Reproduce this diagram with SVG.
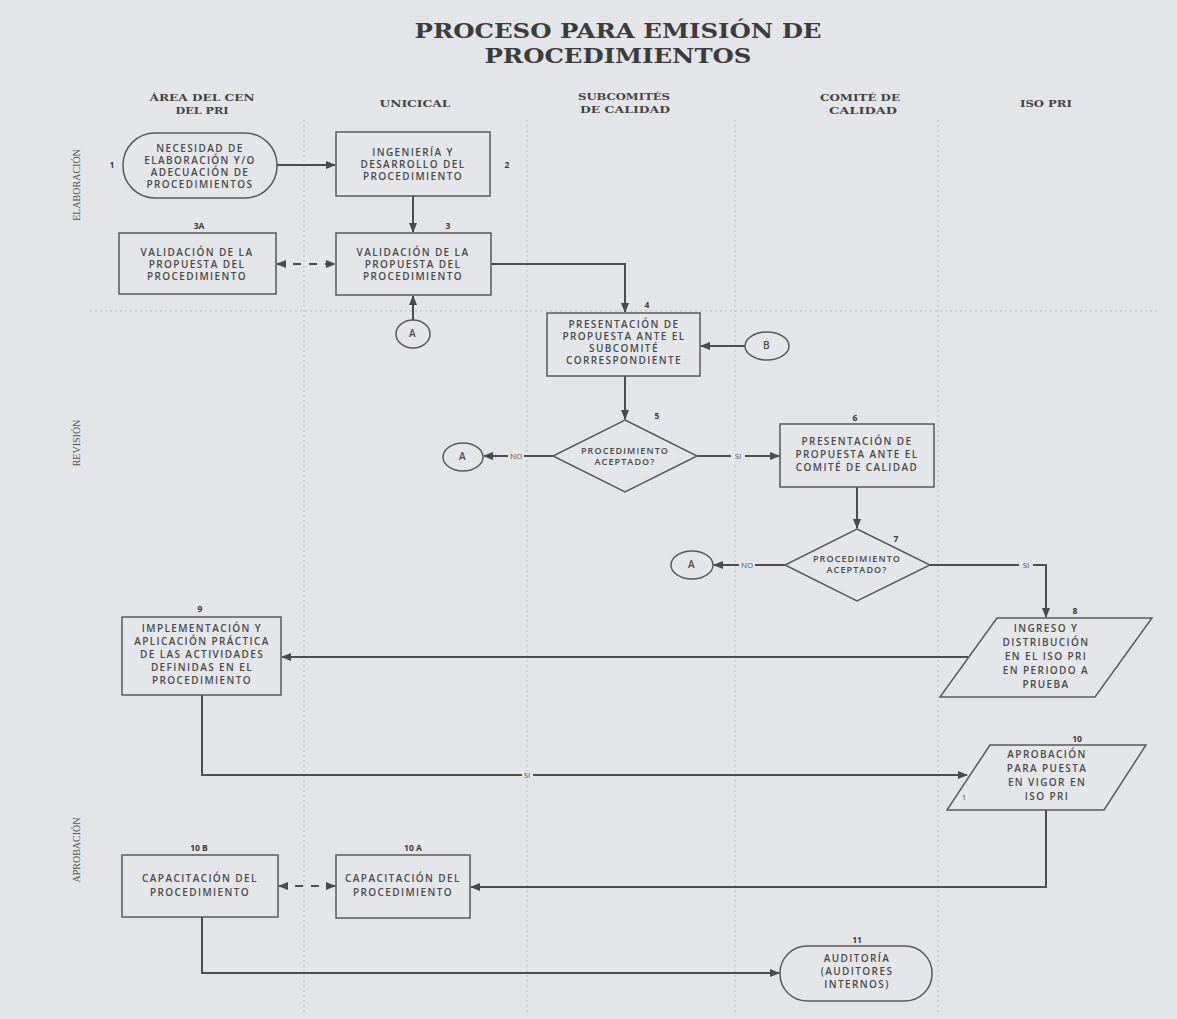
<svg xmlns="http://www.w3.org/2000/svg" width="1177" height="1019" viewBox="0 0 1177 1019">
<defs>
<marker id="ah" markerWidth="10" markerHeight="8" refX="9" refY="4" orient="auto" markerUnits="userSpaceOnUse"><path d="M0,0 L10,4 L0,8 Z" fill="#4a4a4a"/></marker>
<marker id="ahs" markerWidth="10" markerHeight="8" refX="1" refY="4" orient="auto" markerUnits="userSpaceOnUse"><path d="M10,0 L0,4 L10,8 Z" fill="#4a4a4a"/></marker>
<style>
.bg{fill:#e3e5e8}
.sep{stroke:#b9bcc0;stroke-width:1;stroke-dasharray:2,3;fill:none}
.shape{fill:#e4e6e9;stroke:#5a5a5a;stroke-width:1.5}
.conn{fill:none;stroke:#4d4d4d;stroke-width:2}
.dash{stroke-dasharray:8,8}
.t{font-family:"Open Sans","Liberation Sans",sans-serif;font-size:10px;font-weight:600;letter-spacing:1.4px;fill:#4a4a4a;text-anchor:middle}
.s{font-size:9px;letter-spacing:1.1px}
.n{font-family:"Open Sans","Liberation Sans",sans-serif;font-size:8.5px;font-weight:bold;fill:#3a3a3a;text-anchor:middle}
.lbl{font-family:"Open Sans","Liberation Sans",sans-serif;font-size:8px;fill:#555;text-anchor:middle}
.hd{font-family:"DejaVu Serif",serif;font-size:10px;font-weight:bold;fill:#444;text-anchor:middle}
.title{font-family:"DejaVu Serif",serif;font-size:21px;font-weight:bold;fill:#3c3c3c;text-anchor:middle}
.row{font-family:"Liberation Serif",serif;font-size:10px;fill:#555;text-anchor:middle}
</style>
</defs>
<rect class="bg" x="0" y="0" width="1177" height="1019"/>
<g id="title">
<text class="title" x="618" y="38" textLength="407" lengthAdjust="spacingAndGlyphs">PROCESO PARA EMISIÓN DE</text>
<text class="title" x="618" y="63" textLength="267" lengthAdjust="spacingAndGlyphs">PROCEDIMIENTOS</text>
</g>
<g id="lanes">
<text class="hd" x="202" y="101" textLength="105" lengthAdjust="spacingAndGlyphs">ÁREA DEL CEN</text>
<text class="hd" x="202" y="114" textLength="53" lengthAdjust="spacingAndGlyphs">DEL PRI</text>
<text class="hd" x="415" y="107" textLength="71" lengthAdjust="spacingAndGlyphs">UNICICAL</text>
<text class="hd" x="624" y="100" textLength="92" lengthAdjust="spacingAndGlyphs">SUBCOMITÉS</text>
<text class="hd" x="625" y="113" textLength="90" lengthAdjust="spacingAndGlyphs">DE CALIDAD</text>
<text class="hd" x="860" y="101" textLength="80" lengthAdjust="spacingAndGlyphs">COMITÉ DE</text>
<text class="hd" x="863" y="114" textLength="68" lengthAdjust="spacingAndGlyphs">CALIDAD</text>
<text class="hd" x="1046" y="107" textLength="52" lengthAdjust="spacingAndGlyphs">ISO PRI</text>
<line class="sep" x1="304" y1="120" x2="304" y2="1012"/>
<line class="sep" x1="527" y1="120" x2="527" y2="1012"/>
<line class="sep" x1="735" y1="120" x2="735" y2="1012"/>
<line class="sep" x1="938" y1="120" x2="938" y2="1012"/>
<line class="sep" x1="90" y1="311" x2="1160" y2="311"/>
<text class="row" transform="translate(80,185) rotate(-90)">ELABORACIÓN</text>
<text class="row" transform="translate(80,443) rotate(-90)">REVISIÓN</text>
<text class="row" transform="translate(80,850) rotate(-90)">APROBACIÓN</text>
</g>
<g id="connectors">
<line class="conn" x1="277" y1="165" x2="335" y2="165" marker-end="url(#ah)"/>
<line class="conn" x1="413" y1="196" x2="413" y2="232" marker-end="url(#ah)"/>
<line class="conn dash" x1="277" y1="264" x2="335" y2="264" marker-start="url(#ahs)" marker-end="url(#ah)"/>
<line class="conn" x1="413" y1="320" x2="413" y2="296" marker-end="url(#ah)"/>
<polyline class="conn" points="491,264 625,264 625,312" marker-end="url(#ah)"/>
<line class="conn" x1="745" y1="346" x2="701" y2="346" marker-end="url(#ah)"/>
<line class="conn" x1="625" y1="376" x2="625" y2="419" marker-end="url(#ah)"/>
<line class="conn" x1="553" y1="456" x2="484" y2="456" marker-end="url(#ah)"/>
<line class="conn" x1="697" y1="456" x2="779" y2="456" marker-end="url(#ah)"/>
<line class="conn" x1="857" y1="487" x2="857" y2="528" marker-end="url(#ah)"/>
<line class="conn" x1="785" y1="565" x2="714" y2="565" marker-end="url(#ah)"/>
<polyline class="conn" points="930,565 1046,565 1046,617" marker-end="url(#ah)"/>
<line class="conn" x1="968" y1="657" x2="282" y2="657" marker-end="url(#ah)"/>
<polyline class="conn" points="202,695 202,775 967,775" marker-end="url(#ah)"/>
<polyline class="conn" points="1046,810 1046,887 471,887" marker-end="url(#ah)"/>
<line class="conn dash" x1="279" y1="886" x2="335" y2="886" marker-start="url(#ahs)" marker-end="url(#ah)"/>
<polyline class="conn" points="202,917 202,973 779,973" marker-end="url(#ah)"/>
<rect x="508" y="451" width="16" height="10" fill="#e3e5e8"/>
<text class="lbl" x="516" y="459">NO</text>
<rect x="731" y="451" width="14" height="10" fill="#e3e5e8"/>
<text class="lbl" x="738" y="459">SI</text>
<rect x="739" y="560" width="16" height="10" fill="#e3e5e8"/>
<text class="lbl" x="747" y="568">NO</text>
<rect x="1019" y="560" width="14" height="10" fill="#e3e5e8"/>
<text class="lbl" x="1026" y="568">SI</text>
<rect x="522" y="771" width="11" height="9" fill="#e3e5e8"/>
<text class="lbl" x="527" y="778" font-size="6">SI</text>
</g>
<g id="n1">
<rect class="shape" x="123" y="133" width="154" height="65" rx="32" ry="32"/>
<text class="n" x="112" y="168">1</text>
<text class="t" x="200" y="152">NECESIDAD DE</text>
<text class="t" x="200" y="164">ELABORACIÓN Y/O</text>
<text class="t" x="200" y="176">ADECUACIÓN DE</text>
<text class="t" x="200" y="188">PROCEDIMIENTOS</text>
</g>
<g id="n2">
<rect class="shape" x="336" y="132" width="154" height="64"/>
<text class="n" x="507" y="168">2</text>
<text class="t" x="413" y="156">INGENIERÍA Y</text>
<text class="t" x="413" y="168">DESARROLLO DEL</text>
<text class="t" x="413" y="180">PROCEDIMIENTO</text>
</g>
<g id="n3A">
<rect class="shape" x="119" y="233" width="157" height="61"/>
<text class="n" x="199" y="229">3A</text>
<text class="t" x="197" y="256">VALIDACIÓN DE LA</text>
<text class="t" x="197" y="268">PROPUESTA DEL</text>
<text class="t" x="197" y="280">PROCEDIMIENTO</text>
</g>
<g id="n3">
<rect class="shape" x="336" y="233" width="155" height="62"/>
<text class="n" x="448" y="229">3</text>
<text class="t" x="413" y="256">VALIDACIÓN DE LA</text>
<text class="t" x="413" y="268">PROPUESTA DEL</text>
<text class="t" x="413" y="280">PROCEDIMIENTO</text>
</g>
<g id="cA1">
<ellipse class="shape" cx="413" cy="334" rx="17" ry="14"/>
<text class="t" x="413" y="337" letter-spacing="0">A</text>
</g>
<g id="n4">
<rect class="shape" x="547" y="313" width="153" height="63"/>
<text class="n" x="647" y="308">4</text>
<text class="t" x="624" y="328">PRESENTACIÓN DE</text>
<text class="t" x="624" y="340">PROPUESTA ANTE EL</text>
<text class="t" x="624" y="352">SUBCOMITÉ</text>
<text class="t" x="624" y="364">CORRESPONDIENTE</text>
</g>
<g id="cB">
<ellipse class="shape" cx="767" cy="346" rx="22" ry="14"/>
<text class="t" x="767" y="349" letter-spacing="0">B</text>
</g>
<g id="n5">
<polygon class="shape" points="625,420 697,456 625,492 553,456"/>
<text class="n" x="657" y="419">5</text>
<text class="t s" x="625" y="454">PROCEDIMIENTO</text>
<text class="t s" x="625" y="465">ACEPTADO?</text>
</g>
<g id="cA2">
<ellipse class="shape" cx="463" cy="457" rx="20" ry="14"/>
<text class="t" x="463" y="460" letter-spacing="0">A</text>
</g>
<g id="n6">
<rect class="shape" x="780" y="424" width="154" height="63"/>
<text class="n" x="855" y="421">6</text>
<text class="t" x="857" y="445">PRESENTACIÓN DE</text>
<text class="t" x="857" y="458">PROPUESTA ANTE EL</text>
<text class="t" x="857" y="471">COMITÉ DE CALIDAD</text>
</g>
<g id="n7">
<polygon class="shape" points="857,529 930,565 857,601 785,565"/>
<text class="n" x="896" y="542">7</text>
<text class="t s" x="857" y="562">PROCEDIMIENTO</text>
<text class="t s" x="857" y="573">ACEPTADO?</text>
</g>
<g id="cA3">
<ellipse class="shape" cx="692" cy="565" rx="21" ry="14"/>
<text class="t" x="692" y="568" letter-spacing="0">A</text>
</g>
<g id="n8">
<polygon class="shape" points="997,618 1152,618 1095,697 940,697"/>
<text class="n" x="1075" y="614">8</text>
<text class="t" x="1046" y="632">INGRESO Y</text>
<text class="t" x="1046" y="646">DISTRIBUCIÓN</text>
<text class="t" x="1046" y="660">EN EL ISO PRI</text>
<text class="t" x="1046" y="674">EN PERIODO A</text>
<text class="t" x="1046" y="688">PRUEBA</text>
</g>
<g id="n9">
<rect class="shape" x="122" y="617" width="159" height="78"/>
<text class="n" x="200" y="612">9</text>
<text class="t" x="202" y="632" letter-spacing="0.9">IMPLEMENTACIÓN Y</text>
<text class="t" x="202" y="645" letter-spacing="0.9">APLICACIÓN PRÁCTICA</text>
<text class="t" x="202" y="658" letter-spacing="0.9">DE LAS ACTIVIDADES</text>
<text class="t" x="202" y="671" letter-spacing="0.9">DEFINIDAS EN EL</text>
<text class="t" x="202" y="684" letter-spacing="0.9">PROCEDIMIENTO</text>
</g>
<g id="n10">
<polygon class="shape" points="990,745 1146,745 1104,810 947,810"/>
<text class="n" x="1077" y="742">10</text>
<text class="t" x="1047" y="758">APROBACIÓN</text>
<text class="t" x="1047" y="772">PARA PUESTA</text>
<text class="t" x="1047" y="786">EN VIGOR EN</text>
<text class="t" x="1047" y="800">ISO PRI</text>
<text class="lbl" x="964" y="800" font-size="6">1</text>
</g>
<g id="n10A">
<rect class="shape" x="336" y="855" width="134" height="63"/>
<text class="n" x="413" y="851">10 A</text>
<text class="t" x="403" y="882" letter-spacing="1">CAPACITACIÓN  DEL</text>
<text class="t" x="403" y="896" letter-spacing="1">PROCEDIMIENTO</text>
</g>
<g id="n10B">
<rect class="shape" x="122" y="855" width="156" height="62"/>
<text class="n" x="199" y="851">10 B</text>
<text class="t" x="200" y="882">CAPACITACIÓN  DEL</text>
<text class="t" x="200" y="896">PROCEDIMIENTO</text>
</g>
<g id="n11">
<rect class="shape" x="780" y="946" width="152" height="55" rx="27" ry="27"/>
<text class="n" x="857" y="943">11</text>
<text class="t" x="857" y="962">AUDITORÍA</text>
<text class="t" x="857" y="975">(AUDITORES</text>
<text class="t" x="857" y="988">INTERNOS)</text>
</g>
</svg>
